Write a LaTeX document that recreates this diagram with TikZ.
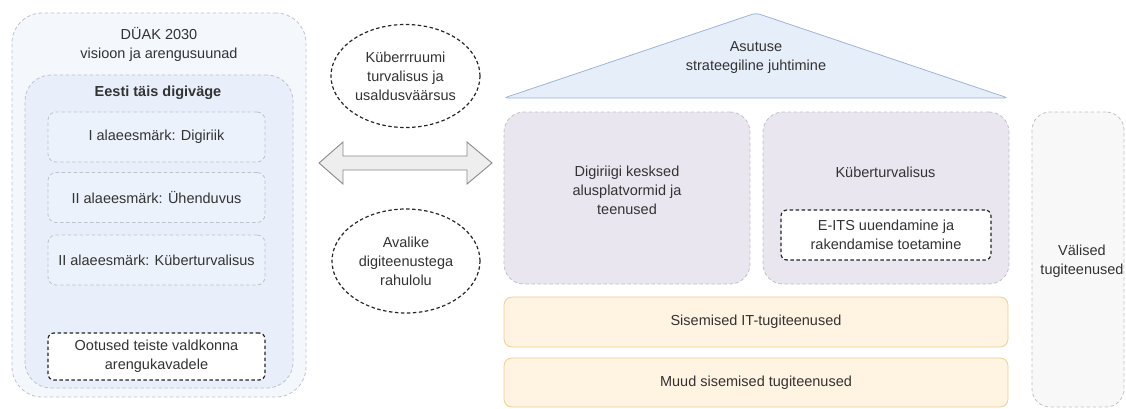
\documentclass[tikz,border=0pt]{standalone}
\usepackage{fontspec}
\setmainfont{Liberation Sans}
\usetikzlibrary{shapes.geometric}

\definecolor{txt}{HTML}{333333}
\definecolor{dashgray}{HTML}{BEC2CA}
\definecolor{outerfill}{HTML}{F4F7FC}
\definecolor{innerfill}{HTML}{E8EFFA}
\definecolor{subfill}{HTML}{ECF2FB}
\definecolor{rooffill}{HTML}{E6EEFA}
\definecolor{roofdraw}{HTML}{9FB4D3}
\definecolor{purplefill}{HTML}{E9E6F0}
\definecolor{orangefill}{HTML}{FFF3E1}
\definecolor{orangedraw}{HTML}{EFCD95}
\definecolor{extfill}{HTML}{F8F8F8}
\definecolor{arrowfill}{HTML}{EEEEEE}
\definecolor{arrowdraw}{HTML}{8A8A8A}

\begin{document}
\begin{tikzpicture}[x=1pt,y=-1pt,
  lbl/.style={font=\fontsize{14.5}{19}\selectfont, text=txt, align=center},
  box/.style={lbl, inner sep=0pt, outer sep=0pt},
  softdash/.style={draw=dashgray, dash pattern=on 3.5pt off 2.5pt, line width=0.8pt},
  darkdash/.style={draw=black!85, dash pattern=on 3.5pt off 2.5pt, line width=1.2pt},
  panel/.style={box, softdash, fill=outerfill, rounded corners=30pt},
  subpanel/.style={box, softdash, fill=innerfill, rounded corners=26pt},
  goalbox/.style={box, softdash, fill=subfill, rounded corners=8pt,
    minimum width=217pt, minimum height=50pt},
  notebox/.style={box, darkdash, fill=white, rounded corners=6pt},
  oval/.style={lbl, ellipse, darkdash, fill=white, inner sep=0pt},
  pillar/.style={box, softdash, fill=purplefill, rounded corners=20pt,
    minimum width=246pt, minimum height=172pt},
  floor/.style={box, draw=orangedraw, line width=0.8pt, fill=orangefill,
    rounded corners=8pt, minimum width=504pt},
]
\useasboundingbox (0,0) rectangle (1126,408);

% left panel: vision and goals
\node[panel, minimum width=294pt, minimum height=384pt] (vision) at (159,205) {};
\node[lbl] (visiontitle) at (159,44) {DÜAK 2030\\visioon ja arengusuunad};
\node[subpanel, minimum width=268pt, minimum height=313pt] (digi) at (159,231.5) {};
\node[lbl, font=\fontsize{14.5}{19}\selectfont\bfseries] (digititle) at (158,93) {Eesti täis digiväge};
\node[goalbox] (goal1) at (156.5,137) {I alaeesmärk: Digiriik};
\node[goalbox] (goal2) at (156.5,197.5) {II alaeesmärk: Ühenduvus};
\node[goalbox] (goal3) at (156.5,260) {II alaeesmärk: Küberturvalisus};
\node[notebox, minimum width=217pt, minimum height=47pt] (expect) at (156.5,356.5)
  {Ootused teiste valdkonna\\arengukavadele};

% middle: indicators and the two-way link
\node[oval, minimum width=149pt, minimum height=103pt] (trust) at (405.5,76)
  {Küberrruumi\\turvalisus ja\\usaldusväärsus};
\node[oval, minimum width=148pt, minimum height=104pt] (satisf) at (406,261)
  {Avalike\\digiteenustega\\rahulolu};
\draw[draw=arrowdraw, fill=arrowfill, line width=0.9pt, line join=miter]
  (319,163) -- (343,142) -- (343,156) -- (467,156) -- (467,142) -- (492,163)
  -- (467,184) -- (467,170) -- (343,170) -- (343,184) -- cycle;

% right: the agency as a house
\draw[draw=roofdraw, fill=rooffill, line width=0.8pt, rounded corners=4pt]
  (504,98) -- (756,13) -- (1008,98) -- cycle;
\node[lbl] (roof) at (756,57.5) {Asutuse\\strateegiline juhtimine};

\node[pillar] (platforms) at (627,198) {};
\node[lbl] (platformstext) at (627,190) {Digiriigi kesksed\\alusplatvormid ja\\teenused};
\node[pillar] (cyber) at (886,198) {};
\node[lbl] (cybertext) at (885.5,172) {Küberturvalisus};
\node[notebox, minimum width=210pt, minimum height=50pt] (eits) at (886,235)
  {E-ITS uuendamine ja\\rakendamise toetamine};

\node[floor, minimum height=50pt] (itsupport) at (756,322) {Sisemised IT-tugiteenused};
\node[floor, minimum height=49pt] (othersupport) at (756,382.5) {Muud sisemised tugiteenused};

\node[box, softdash, fill=extfill, rounded corners=18pt,
  minimum width=92pt, minimum height=295pt] (external) at (1078,259.5) {};
\node[lbl] (externaltext) at (1082,261) {Välised\\tugiteenused};
\end{tikzpicture}
\end{document}
